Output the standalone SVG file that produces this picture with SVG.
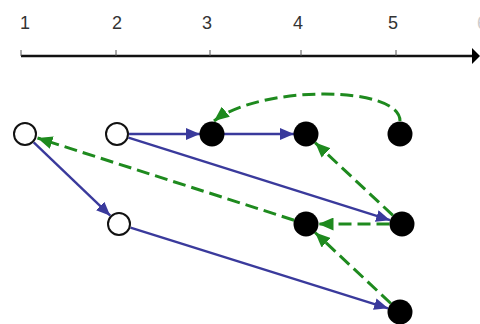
<svg xmlns="http://www.w3.org/2000/svg" width="480" height="324" viewBox="0 0 480 324">
<defs>
<style>
.lbl{font-family:"Liberation Sans",Arial,sans-serif;font-size:18px;fill:#333;text-anchor:middle}
.axis{stroke:#111;stroke-width:2.5;fill:none}
.tick{stroke:#555;stroke-width:1}
.blue{stroke:#3a3a9c;stroke-width:2.4;fill:none;marker-end:url(#ab)}
.green{stroke:#1e8a1e;stroke-width:3;fill:none;stroke-dasharray:13 6;marker-end:url(#ag)}
.open{fill:#fff;stroke:#111;stroke-width:2}
.full{fill:#000}
</style>
<marker id="ab" markerUnits="userSpaceOnUse" markerWidth="14" markerHeight="12" viewBox="0 0 14 12" refX="14" refY="6" orient="auto"><path d="M0,0 L14,6 L0,12 Z" fill="#3a3a9c"/></marker>
<marker id="ag" markerUnits="userSpaceOnUse" markerWidth="15" markerHeight="13" viewBox="0 0 15 13" refX="15" refY="6.5" orient="auto"><path d="M0,0 L15,6.5 L0,13 Z" fill="#1e8a1e"/></marker>
</defs>
<rect width="480" height="324" fill="#fff"/>
<g id="axis">
<line class="axis" x1="21" y1="56" x2="472" y2="56"/>
<path d="M472,48 L480,56 L472,64 Z" fill="#000"/>
<line class="tick" x1="21" y1="50" x2="21" y2="56"/>
<line class="tick" x1="116" y1="50" x2="116" y2="56"/>
<line class="tick" x1="210" y1="50" x2="210" y2="56"/>
<line class="tick" x1="301" y1="50" x2="301" y2="56"/>
<line class="tick" x1="396" y1="50" x2="396" y2="56"/>
<text class="lbl" x="25" y="29">1</text>
<text class="lbl" x="117" y="29">2</text>
<text class="lbl" x="207" y="29">3</text>
<text class="lbl" x="298" y="29">4</text>
<text class="lbl" x="393" y="29">5</text>
<text class="lbl" x="482" y="29" style="fill:#ccc">6</text>
</g>
<g id="connectors">
<line class="blue" x1="129" y1="134" x2="200" y2="134"/>
<line class="blue" x1="224" y1="134" x2="294" y2="134"/>
<line class="blue" x1="128.4" y1="137.6" x2="390.1" y2="220.2"/>
<line class="blue" x1="33.7" y1="142.3" x2="110.3" y2="215.7"/>
<line class="blue" x1="130.5" y1="227.6" x2="388.1" y2="308.3"/>
<path class="green" d="M400,121 C400,85 260,85 214,121"/>
<line class="green" x1="294.1" y1="220.2" x2="37.5" y2="138"/>
<line class="green" x1="389.5" y1="224" x2="318.5" y2="224"/>
<line class="green" x1="392.9" y1="215.4" x2="315.1" y2="142.6"/>
<line class="green" x1="390.9" y1="303.5" x2="315.1" y2="232.5"/>
</g>
<g id="n1"><circle class="open" cx="25" cy="134" r="11"/></g>
<g id="n2"><circle class="open" cx="117" cy="134" r="11"/></g>
<g id="n3"><circle class="full" cx="212" cy="134" r="12.5"/></g>
<g id="n4"><circle class="full" cx="306" cy="134" r="12.5"/></g>
<g id="n5"><circle class="full" cx="400" cy="134" r="12.5"/></g>
<g id="n6"><circle class="open" cx="119" cy="224" r="11"/></g>
<g id="n7"><circle class="full" cx="306" cy="224" r="12.5"/></g>
<g id="n8"><circle class="full" cx="402" cy="224" r="12.5"/></g>
<g id="n9"><circle class="full" cx="400" cy="312" r="12.5"/></g>
</svg>
